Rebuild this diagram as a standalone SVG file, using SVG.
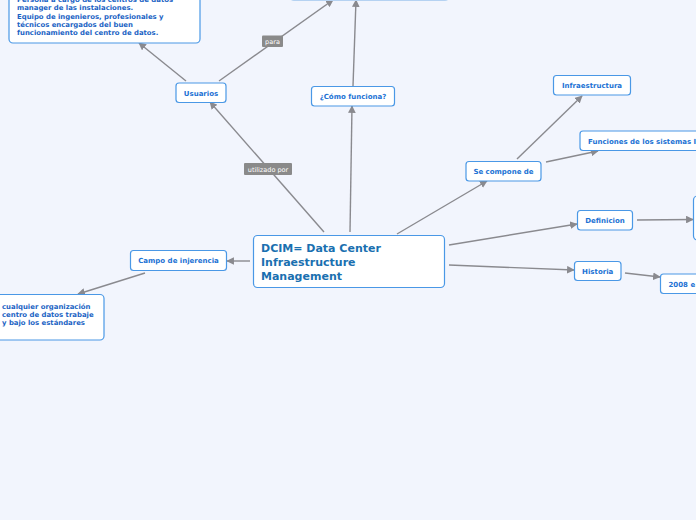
<svg xmlns="http://www.w3.org/2000/svg" width="696" height="520" viewBox="0 0 696 520">
<style>
.bg{fill:#f2f5fd}
.n rect{fill:#ffffff;stroke:#4a98e6;stroke-width:1.2}
.t{font-family:"DejaVu Sans",Verdana,sans-serif;font-weight:bold;font-size:7px;fill:#1c72d4}
.tl{font-family:"DejaVu Sans",Verdana,sans-serif;font-weight:bold;font-size:6.9px;fill:#1a63c4}
.tc{font-family:"DejaVu Sans",Verdana,sans-serif;font-weight:bold;font-size:11px;fill:#1a70b0}
.c line{stroke:#8a8a8f;stroke-width:1.4;marker-end:url(#ah)}
.lb rect{fill:#8a8a8a}
.lb text{font-family:"DejaVu Sans",Verdana,sans-serif;font-size:6.5px;fill:#ffffff;text-anchor:middle}
</style>
<defs>
<marker id="ah" viewBox="0 0 10 10" refX="9" refY="5" markerWidth="5.5" markerHeight="5.5" orient="auto" markerUnits="strokeWidth">
<path d="M0,0 L10,5 L0,10 z" fill="#8a8a8f"/>
</marker>
</defs>
<rect class="bg" x="0" y="0" width="696" height="520"/>

<g class="c" id="connectors">
<line x1="324" y1="232" x2="210" y2="102"/>
<line x1="350" y1="232" x2="352" y2="106"/>
<line x1="397" y1="234" x2="487" y2="181"/>
<line x1="449" y1="245" x2="577" y2="224"/>
<line x1="449" y1="265" x2="574" y2="270"/>
<line x1="250" y1="261" x2="227" y2="261"/>
<line x1="145" y1="273" x2="78" y2="294"/>
<line x1="186" y1="81" x2="139" y2="43"/>
<line x1="219" y1="81" x2="333" y2="0"/>
<line x1="353" y1="86" x2="356" y2="0"/>
<line x1="517" y1="159" x2="582" y2="96"/>
<line x1="546" y1="162" x2="598" y2="151"/>
<line x1="637" y1="220" x2="693" y2="219.5"/>
<line x1="625" y1="273" x2="660" y2="277"/>
</g>
<g class="lb" id="label-utilizado">
<rect x="244" y="163" width="48" height="12" rx="1"/>
<text x="268" y="171.5">utilizado por</text>
</g>
<g class="lb" id="label-para">
<rect x="262" y="35.5" width="21" height="11.5" rx="1"/>
<text x="272.5" y="43.5">para</text>
</g>

<g class="n" id="node-top">
<rect x="290" y="-40" width="159" height="40.5" rx="4" style="stroke:#b5d2f2"/>
</g>

<g class="n" id="node-central">
<rect x="253.5" y="235.5" width="191" height="52" rx="4"/>
<text class="tc" x="261" y="252">DCIM= Data Center</text>
<text class="tc" x="261" y="266">Infraestructure</text>
<text class="tc" x="261" y="280">Management</text>
</g>

<g class="n" id="node-usuarios">
<rect x="176" y="83" width="50" height="19.5" rx="3"/>
<text class="t" x="201" y="95.5" text-anchor="middle">Usuarios</text>
</g>

<g class="n" id="node-usuarios-desc">
<rect x="9" y="-20" width="191" height="63" rx="4"/>
<text class="tl" x="17" y="1.8">Persona a cargo de los centros de datos</text>
<text class="tl" x="17" y="10.2">manager de las instalaciones.</text>
<text class="tl" x="17" y="18.5">Equipo de ingenieros, profesionales y</text>
<text class="tl" x="17" y="26.8">técnicos encargados del buen</text>
<text class="tl" x="17" y="35.1">funcionamiento del centro de datos.</text>
</g>

<g class="n" id="node-como">
<rect x="311.5" y="86.5" width="83" height="19.5" rx="3"/>
<text class="t" x="353" y="99" text-anchor="middle">¿Cómo funciona?</text>
</g>

<g class="n" id="node-compone">
<rect x="466" y="161.5" width="75" height="19.5" rx="3"/>
<text class="t" x="503.5" y="174" text-anchor="middle">Se compone de</text>
</g>

<g class="n" id="node-infra">
<rect x="553.5" y="75.5" width="77" height="19.5" rx="3"/>
<text class="t" x="592" y="88" text-anchor="middle">Infraestructura</text>
</g>

<g class="n" id="node-funciones">
<rect x="580" y="131" width="130" height="19.5" rx="3"/>
<text class="t" x="588" y="143.5">Funciones de los sistemas I</text>
</g>

<g class="n" id="node-definicion">
<rect x="577.5" y="210.5" width="55" height="19.5" rx="3"/>
<text class="t" x="605" y="223" text-anchor="middle">Definicion</text>
</g>

<g class="n" id="node-def-desc">
<rect x="693.5" y="196" width="40" height="44" rx="4"/>
</g>

<g class="n" id="node-historia">
<rect x="574.5" y="261.5" width="46.5" height="19" rx="3"/>
<text class="t" x="597.7" y="273.5" text-anchor="middle">Historia</text>
</g>

<g class="n" id="node-2008">
<rect x="660.5" y="274" width="60" height="19.5" rx="3"/>
<text class="t" x="668.5" y="286.5">2008 e</text>
</g>

<g class="n" id="node-campo">
<rect x="130.5" y="250.5" width="96" height="20" rx="3"/>
<text class="t" x="178.5" y="263.2" text-anchor="middle">Campo de injerencia</text>
</g>

<g class="n" id="node-campo-desc">
<rect x="-20" y="294.5" width="124" height="45.5" rx="4"/>
<text class="tl" x="2" y="308.5">cualquier organización</text>
<text class="tl" x="2" y="316.8">centro de datos trabaje</text>
<text class="tl" x="2" y="325.1">y bajo los estándares</text>
</g>
</svg>
